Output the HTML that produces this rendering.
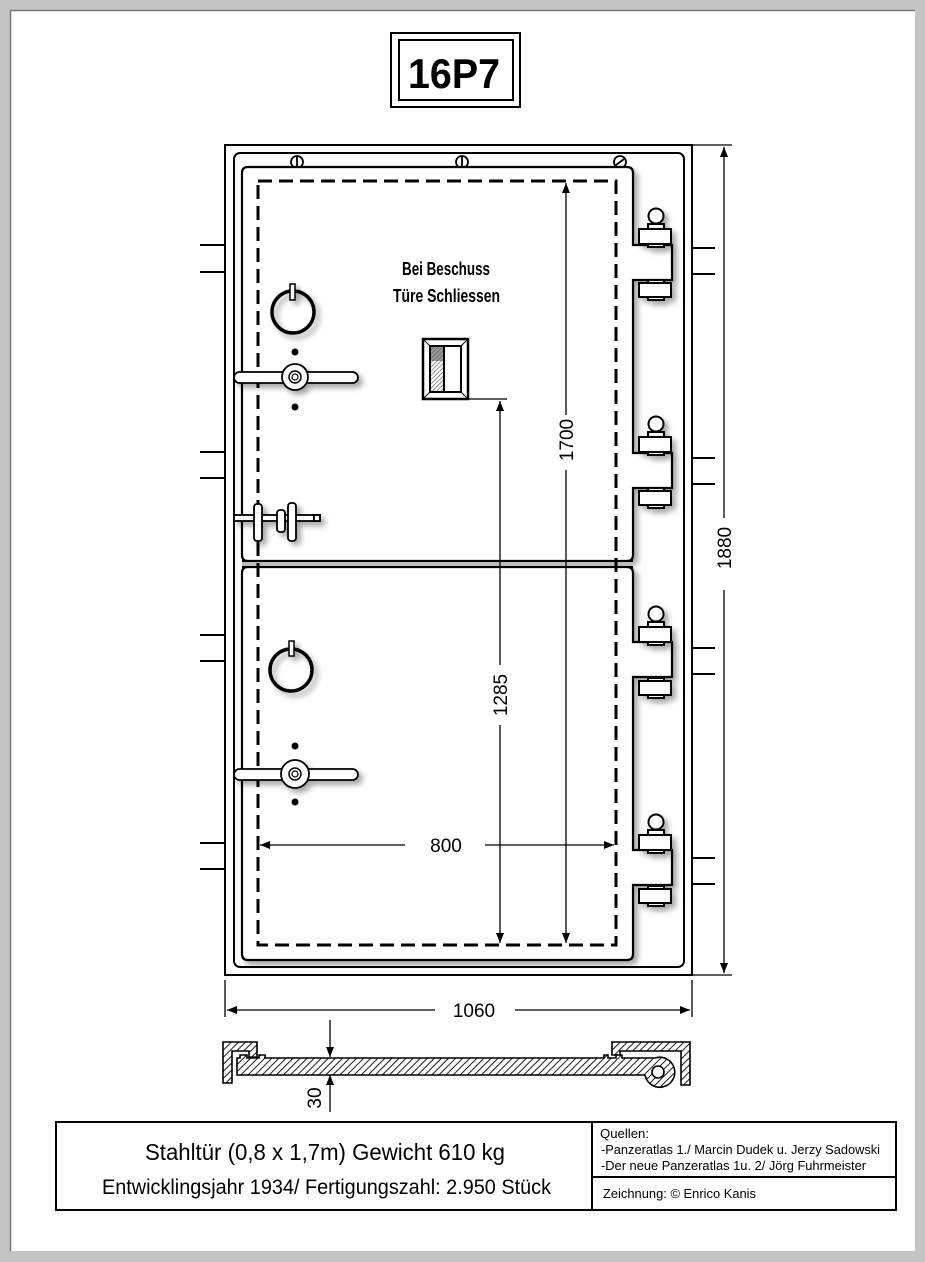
<!DOCTYPE html>
<html><head><meta charset="utf-8"><style>
html,body{margin:0;padding:0;background:#c4c4c4;}
svg{display:block;}
</style></head><body>
<svg width="925" height="1262" viewBox="0 0 925 1262" xmlns="http://www.w3.org/2000/svg">
<defs>
<pattern id="h" width="5" height="5" patternUnits="userSpaceOnUse" patternTransform="rotate(45)">
<rect width="5" height="5" fill="#fff"/><line x1="0" y1="0" x2="0" y2="5" stroke="#000" stroke-width="1.8"/></pattern>
<pattern id="h2" width="3" height="3" patternUnits="userSpaceOnUse" patternTransform="rotate(45)">
<rect width="3" height="3" fill="#fff"/><line x1="0" y1="0" x2="0" y2="3" stroke="#333" stroke-width="1"/></pattern>
<filter id="sh" x="-20%" y="-20%" width="150%" height="150%">
<feGaussianBlur in="SourceAlpha" stdDeviation="3"/><feOffset dx="4" dy="4"/>
<feComponentTransfer><feFuncA type="linear" slope="0.35"/></feComponentTransfer>
<feMerge><feMergeNode/><feMergeNode in="SourceGraphic"/></feMerge></filter>
<marker id="a" markerWidth="10" markerHeight="8" refX="10" refY="4" orient="auto" markerUnits="userSpaceOnUse"><path d="M0,0 L10,4 L0,8 z" fill="#000"/></marker>
</defs>
<rect x="0" y="0" width="925" height="1262" fill="#c4c4c4"/>
<rect x="10" y="10" width="905" height="1241" fill="#fff"/>
<line x1="10.5" y1="10" x2="10.5" y2="1251" stroke="#777" stroke-width="1.5"/>
<line x1="10" y1="10.5" x2="915" y2="10.5" stroke="#777" stroke-width="1.5"/>

<!-- title -->
<rect x="391" y="33" width="129" height="74" fill="#fff" stroke="#000" stroke-width="2"/>
<rect x="399" y="40" width="114" height="60" fill="#fff" stroke="#000" stroke-width="2"/>
<text x="408" y="88" font-family="Liberation Sans, sans-serif" font-weight="bold" font-size="42" textLength="92" lengthAdjust="spacingAndGlyphs">16P7</text>

<g fill="none" stroke="#000" stroke-width="2">
<rect x="225" y="145" width="467" height="830"/>
<rect x="234" y="153" width="450" height="814" rx="6"/>
<path d="M200 245H225M200 272H225M200 452H225M200 478H225M200 635H225M200 661H225M200 843H225M200 869H225"/>
<path d="M692 248H715M692 274H715M692 458H715M692 484H715M692 648H715M692 674H715M692 858H715M692 884H715"/>
</g>

<g fill="#fff" stroke="#000" stroke-width="1.8">
<circle cx="297" cy="162" r="6"/><line x1="297" y1="156" x2="297" y2="168"/>
<circle cx="462" cy="162" r="6"/><line x1="462" y1="156" x2="462" y2="168"/>
<circle cx="620" cy="162" r="6"/><line x1="616" y1="165" x2="624" y2="159"/>
</g>

<g filter="url(#sh)" fill="#fff" stroke="#000" stroke-width="2.2">
<path d="M248 167H627Q633 167 633 173V245H672V280H633V453H672V488H633V555Q633 561 627 561H248Q242 561 242 555V173Q242 167 248 167Z"/>
<path d="M248 567H627Q633 567 633 573V642H672V677H633V850H672V885H633V954Q633 960 627 960H248Q242 960 242 954V573Q242 567 248 567Z"/>
</g>
<rect x="242" y="561" width="390" height="6" fill="#bbb"/>
<line x1="242" y1="561" x2="633" y2="561" stroke="#000" stroke-width="2"/>
<line x1="242" y1="567" x2="633" y2="567" stroke="#000" stroke-width="2"/>

<g fill="#fff" stroke="#000" stroke-width="2" filter="url(#sh)">
<g id="hg">
<circle cx="656" cy="216" r="7.5"/>
<rect x="648" y="224" width="16" height="5"/>
<rect x="639" y="229" width="32" height="15"/>
<rect x="648" y="244" width="16" height="3"/>
<rect x="648" y="280" width="16" height="3"/>
<rect x="639" y="283" width="32" height="14"/>
<rect x="648" y="297" width="16" height="3"/>
</g>
<use href="#hg" y="208"/>
<use href="#hg" y="398"/>
<use href="#hg" y="606"/>
</g>

<rect x="258" y="181" width="358" height="764" fill="none" stroke="#000" stroke-width="3" stroke-dasharray="14,7"/>

<g font-family="Liberation Sans, sans-serif" font-weight="bold" font-size="18">
<text x="402" y="275" textLength="88" lengthAdjust="spacingAndGlyphs">Bei Beschuss</text>
<text x="393" y="302" textLength="107" lengthAdjust="spacingAndGlyphs">Türe Schliessen</text>
</g>

<rect x="423" y="339" width="45" height="60" fill="#fff" stroke="#000" stroke-width="2.5"/>
<path d="M423 339L430 346M468 339L461 346M423 399L430 392M468 399L461 392" stroke="#000" stroke-width="1"/>
<rect x="430" y="346" width="31" height="46" fill="#fff" stroke="#000" stroke-width="2"/>
<rect x="431" y="347" width="13" height="44" fill="url(#h2)"/>
<rect x="431" y="347" width="13" height="14" fill="#555" opacity="0.6"/>
<line x1="444" y1="346" x2="444" y2="392" stroke="#000" stroke-width="2"/>

<g filter="url(#sh)">
<circle cx="293" cy="312" r="21" fill="none" stroke="#000" stroke-width="3.5"/>
<rect x="290" y="284" width="5" height="16" fill="#fff" stroke="#000" stroke-width="1.5"/>
<rect x="234" y="372" width="124" height="11" rx="5.5" fill="#fff" stroke="#000" stroke-width="1.8"/>
<circle cx="295" cy="377" r="13" fill="#fff" stroke="#000" stroke-width="1.8"/>
<circle cx="295" cy="377" r="6" fill="#fff" stroke="#000" stroke-width="1.5"/>
<circle cx="295" cy="377" r="3" fill="#fff" stroke="#000" stroke-width="1.2"/>
</g>
<circle cx="295" cy="352" r="3.5"/><circle cx="295" cy="407" r="3.5"/>

<g filter="url(#sh)">
<circle cx="291" cy="670" r="21" fill="none" stroke="#000" stroke-width="3.5"/>
<rect x="289" y="641" width="5" height="15" fill="#fff" stroke="#000" stroke-width="1.5"/>
<rect x="234" y="769" width="124" height="11" rx="5.5" fill="#fff" stroke="#000" stroke-width="1.8"/>
<circle cx="295" cy="774" r="14" fill="#fff" stroke="#000" stroke-width="1.8"/>
<circle cx="295" cy="774" r="6" fill="#fff" stroke="#000" stroke-width="1.5"/>
<circle cx="295" cy="774" r="3" fill="#fff" stroke="#000" stroke-width="1.2"/>
</g>
<circle cx="295" cy="746" r="3.5"/><circle cx="295" cy="802" r="3.5"/>

<g filter="url(#sh)" fill="#fff" stroke="#000" stroke-width="1.8">
<rect x="234" y="515" width="86" height="6"/>
<rect x="314" y="515" width="6" height="6"/>
<rect x="254" y="504" width="8" height="37" rx="3"/>
<rect x="277" y="510" width="8" height="22" rx="3"/>
<rect x="288" y="503" width="8" height="38" rx="3"/>
</g>

<g stroke="#000" stroke-width="1.3" fill="none">
<line x1="566" y1="415" x2="566" y2="183" marker-end="url(#a)"/>
<line x1="566" y1="470" x2="566" y2="943" marker-end="url(#a)"/>
<line x1="469" y1="399" x2="507" y2="399"/>
<line x1="500" y1="665" x2="500" y2="401" marker-end="url(#a)"/>
<line x1="500" y1="725" x2="500" y2="943" marker-end="url(#a)"/>
<line x1="405" y1="845" x2="260" y2="845" marker-end="url(#a)"/>
<line x1="485" y1="845" x2="614" y2="845" marker-end="url(#a)"/>
<line x1="692" y1="145" x2="732" y2="145"/>
<line x1="692" y1="975" x2="732" y2="975"/>
<line x1="724" y1="518" x2="724" y2="147" marker-end="url(#a)"/>
<line x1="724" y1="590" x2="724" y2="973" marker-end="url(#a)"/>
<line x1="225" y1="980" x2="225" y2="1017"/>
<line x1="692" y1="980" x2="692" y2="1017"/>
<line x1="435" y1="1010" x2="227" y2="1010" marker-end="url(#a)"/>
<line x1="515" y1="1010" x2="690" y2="1010" marker-end="url(#a)"/>
<line x1="330" y1="1020" x2="330" y2="1057" marker-end="url(#a)"/>
<line x1="330" y1="1112" x2="330" y2="1075" marker-end="url(#a)"/>
</g>
<g font-family="Liberation Sans, sans-serif" font-size="19" text-anchor="middle">
<text transform="translate(573,440) rotate(-90)">1700</text>
<text transform="translate(507,695) rotate(-90)">1285</text>
<text x="446" y="852">800</text>
<text transform="translate(731,548) rotate(-90)">1880</text>
<text x="474" y="1017">1060</text>
<text transform="translate(321,1098) rotate(-90)">30</text>
</g>

<g fill="url(#h)" stroke="#000" stroke-width="1.6">
<path d="M223 1042H257V1057H249V1051H232V1083H223Z"/>
<path d="M612 1042H690V1085H681V1051H620V1055H612Z"/>
<path d="M237 1058H240V1055H247V1058H259V1055H265V1058H604V1055H608V1058H616V1055H622V1058H655A15 15 0 1 1 645 1075H237Z"/>
<circle cx="658" cy="1072" r="6" fill="#fff"/>
</g>

<g fill="none" stroke="#000" stroke-width="2">
<rect x="56" y="1122" width="840" height="88"/>
<line x1="592" y1="1122" x2="592" y2="1210"/>
<line x1="592" y1="1177" x2="896" y2="1177"/>
</g>
<g font-family="Liberation Sans, sans-serif">
<text x="145" y="1160" font-size="23" textLength="360" lengthAdjust="spacingAndGlyphs">Stahltür (0,8 x 1,7m) Gewicht 610 kg</text>
<text x="102" y="1194" font-size="21" textLength="449" lengthAdjust="spacingAndGlyphs">Entwicklingsjahr 1934/ Fertigungszahl: 2.950 Stück</text>
</g>
<g font-family="Liberation Sans, sans-serif" font-size="13">
<text x="600" y="1138" textLength="49" lengthAdjust="spacingAndGlyphs">Quellen:</text>
<text x="601" y="1154" textLength="279" lengthAdjust="spacingAndGlyphs">-Panzeratlas 1./ Marcin Dudek u. Jerzy Sadowski</text>
<text x="601" y="1170" textLength="265" lengthAdjust="spacingAndGlyphs">-Der neue Panzeratlas 1u. 2/ Jörg Fuhrmeister</text>
<text x="603" y="1198" textLength="153" lengthAdjust="spacingAndGlyphs">Zeichnung: © Enrico Kanis</text>
</g>
</svg>
</body></html>
